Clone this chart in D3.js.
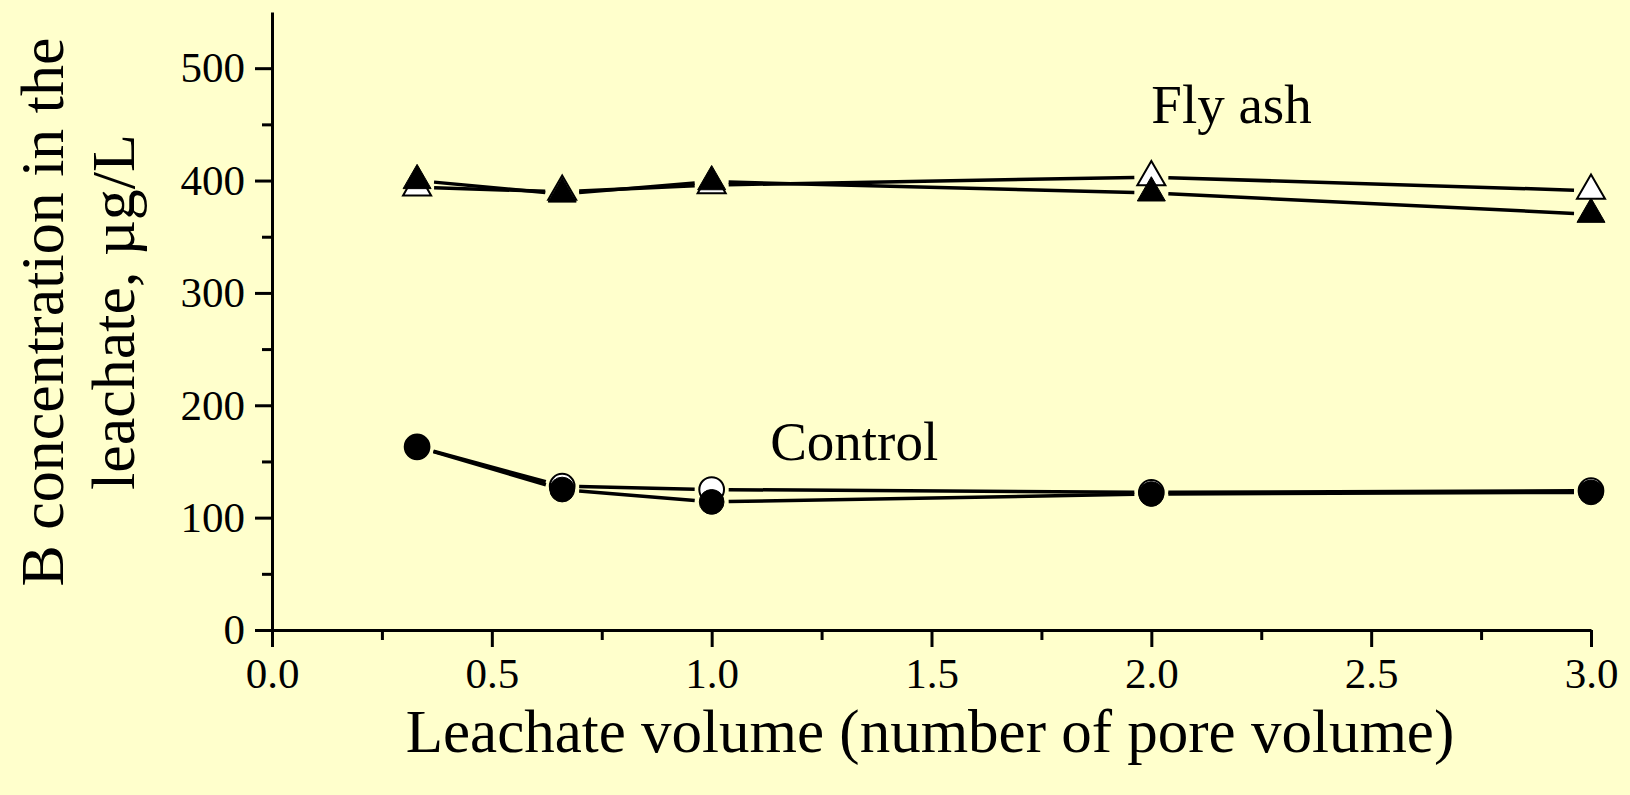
<!DOCTYPE html>
<html>
<head>
<meta charset="utf-8">
<script src="https://cdn.jsdelivr.net/npm/d3@7"></script>
<style>
    html, body { margin: 0; padding: 0; background: #ffffcc; }
    svg { display: block; }
    text { font-family: "Liberation Serif", "Times New Roman", serif; fill: #000; }
</style>
</head>
<body>
<svg width="1630" height="795"></svg>
<script>
const width = 1630;
const height = 795;
const margin = {
    top: 12,
    right: 39,
    bottom: 165,
    left: 272,
};

// data
const poreVolume = [0.33, 0.66, 1.0, 2.0, 3.0];
const flyAshOpen = [394, 390, 396, 403, 391];
const flyAshFilled = [400, 388, 399, 389, 370];
const controlOpen = [163, 128, 125, 122.5, 124];
const controlFilled = [163, 125, 114, 121, 122.5];

const xMajorTicks = [0, 0.5, 1.0, 1.5, 2.0, 2.5, 3.0];
const xMinorTicks = [0.25, 0.75, 1.25, 1.75, 2.25, 2.75];
const yMajorTicks = [0, 100, 200, 300, 400, 500];
const yMinorTicks = [50, 150, 250, 350, 450];

const series = [
    { key: "flyAshOpen", values: flyAshOpen, shape: "triangle", filled: false },
    { key: "flyAshFilled", values: flyAshFilled, shape: "triangle", filled: true },
    { key: "controlOpen", values: controlOpen, shape: "circle", filled: false },
    { key: "controlFilled", values: controlFilled, shape: "circle", filled: true },
];

const svg = d3.select("svg");

const x = d3.scaleLinear()
    .domain([0, 3])
    .range([margin.left, width - margin.right]);

const y = d3.scaleLinear()
    .domain([0, 550])
    .range([height - margin.bottom, margin.top]);

// axes
const xAxisG = svg.append("g")
    .attr("transform", `translate(0, ${y(0)})`);
xAxisG.append("g")
    .call(d3.axisBottom(x).tickValues(xMinorTicks).tickSize(10).tickSizeOuter(0).tickFormat(""))
    .call((g) => g.select(".domain").remove());
xAxisG.append("g")
    .call(d3.axisBottom(x).tickValues(xMajorTicks).tickSize(17).tickSizeOuter(0).tickPadding(10).tickFormat(d3.format(".1f")));

const yAxisG = svg.append("g")
    .attr("transform", `translate(${x(0)}, 0)`);
yAxisG.append("g")
    .call(d3.axisLeft(y).tickValues(yMinorTicks).tickSize(10).tickSizeOuter(0).tickFormat(""))
    .call((g) => g.select(".domain").remove());
yAxisG.append("g")
    .call(d3.axisLeft(y).tickValues(yMajorTicks).tickSize(17).tickSizeOuter(0).tickPadding(10));

svg.selectAll(".domain, .tick line")
    .attr("stroke", "#000")
    .attr("stroke-width", 3);
svg.selectAll(".tick text")
    .style("font-family", "'Liberation Serif', serif")
    .style("font-size", "43px");

// lines, with a small gap round every marker
const gap = 17;
const linesG = svg.append("g");
series.forEach((s) => {
    const pts = s.values.map((v, i) => [x(poreVolume[i]), y(v)]);
    const segs = d3.pairs(pts).map(([a, b]) => {
        const dx = b[0] - a[0];
        const dy = b[1] - a[1];
        const len = Math.sqrt(dx * dx + dy * dy);
        const ux = dx / len;
        const uy = dy / len;
        return [a[0] + ux * gap, a[1] + uy * gap, b[0] - ux * gap, b[1] - uy * gap];
    });
    linesG.selectAll(null)
        .data(segs)
        .enter()
        .append("line")
        .attr("x1", (d) => d[0])
        .attr("y1", (d) => d[1])
        .attr("x2", (d) => d[2])
        .attr("y2", (d) => d[3])
        .attr("stroke", "#000")
        .attr("stroke-width", 3.5);
});

// markers
const triangle = d3.symbol().type(d3.symbolTriangle).size(340);
const circle = d3.symbol().type(d3.symbolCircle).size(480);
series.forEach((s) => {
    svg.append("g")
        .selectAll("path")
        .data(s.values)
        .enter()
        .append("path")
        .attr("d", s.shape === "triangle" ? triangle : circle)
        .attr("transform", (d, i) => `translate(${x(poreVolume[i])}, ${y(d)})`)
        .attr("fill", s.filled ? "#000" : "#fff")
        .attr("stroke", "#000")
        .attr("stroke-width", s.filled ? 1 : 2);
});

// annotations
svg.append("text")
    .attr("x", x(2.0))
    .attr("y", y(451))
    .style("font-size", "55px")
    .text("Fly ash");

svg.append("text")
    .attr("x", x(1.133))
    .attr("y", y(151))
    .style("font-size", "55px")
    .text("Control");

// axis titles
svg.append("text")
    .attr("x", 930)
    .attr("y", 752)
    .attr("text-anchor", "middle")
    .style("font-size", "61px")
    .text("Leachate volume (number of pore volume)");

const yTitle = svg.append("text")
    .attr("transform", "translate(63, 312) rotate(-90)")
    .attr("text-anchor", "middle")
    .style("font-size", "62px");
yTitle.append("tspan")
    .attr("x", 0)
    .attr("y", 0)
    .text("B concentration in the");
yTitle.append("tspan")
    .attr("x", 0)
    .attr("y", 71)
    .text("leachate, \u00b5g/L");
</script>
</body>
</html>
